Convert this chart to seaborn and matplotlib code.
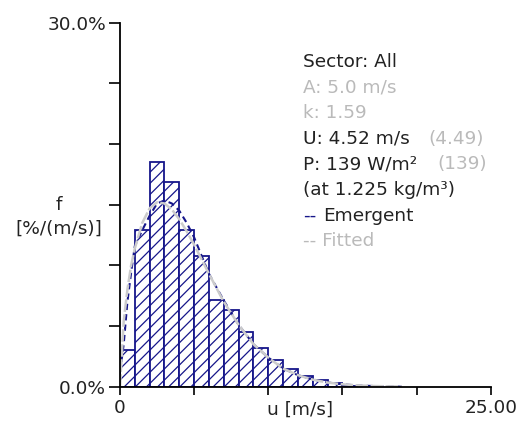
import numpy as np
import pandas as pd
import seaborn as sns
import matplotlib.pyplot as plt

# frequency of wind speed per 1 m/s bin, in %/(m/s)
bin_mid = [0.5, 1.5, 2.5, 3.5, 4.5, 5.5, 6.5, 7.5, 8.5, 9.5, 10.5, 11.5, 12.5, 13.5, 14.5, 15.5]
freq = [3.0, 12.9, 18.5, 16.9, 12.9, 10.8, 7.15, 6.3, 4.5, 3.2, 2.2, 1.5, 0.85, 0.55, 0.3, 0.08]

# distribution curves
curve_u = [0, 0.25, 0.5, 0.75, 1, 1.5, 2, 2.5, 3, 3.5, 4, 4.5, 5, 6, 7, 8, 9, 10,
           11, 12, 13, 14, 15, 16, 17, 18, 19]
emergent = [1.2, 3.5, 7.0, 9.4, 11.6, 12.9, 14.1, 15.1, 15.35, 15.1, 14.5, 13.5, 12.3,
            9.3, 7.1, 5.1, 3.5, 2.4, 1.5, 0.95, 0.6, 0.35, 0.2, 0.1, 0.06, 0.03, 0.0]
fitted = [0.0, 5.4, 8.0, 10.0, 11.4, 13.5, 14.7, 15.2, 15.1, 14.6, 13.8, 12.8, 11.7,
          9.3, 7.0, 5.1, 3.5, 2.4, 1.5, 0.95, 0.58, 0.34, 0.2, 0.11, 0.06, 0.03, 0.015]

info_lines = [
    ("Sector: All", None),
    ("A: 5.0 m/s", None),
    ("k: 1.59", None),
    ("U: 4.52 m/s", "(4.49)"),
    ("P: 139 W/m\u00b2", "(139)"),
    ("(at 1.225 kg/m\u00b3)", None),
]

navy = "#16168a"
grey = "#cccccc"
dark = "#222222"
txt_grey = "#bababa"

sns.set_style("ticks")
plt.rcParams["font.family"] = ["DejaVu Sans"]
plt.rcParams["hatch.color"] = navy
plt.rcParams["hatch.linewidth"] = 0.9
fs = 13.3

fig = plt.figure(figsize=(5.2, 4.21), dpi=100)
ax = fig.add_axes([120 / 520, 1 - 386.7 / 421, 370.7 / 520, 364 / 421])

df = pd.DataFrame({"u": bin_mid, "f": freq})
sns.histplot(data=df, x="u", weights="f", binwidth=1, binrange=(0, 16), ax=ax,
             facecolor="white", edgecolor=navy, linewidth=1.3)
for p in ax.patches:
    p.set_hatch("///")
    p.set_alpha(1)
    p.set_facecolor("white")

curves = pd.DataFrame({"u": curve_u, "Emergent": emergent, "Fitted": fitted})
sns.lineplot(data=curves, x="u", y="Emergent", ax=ax, color=navy, lw=1.5,
             linestyle=(0, (3, 2)))
sns.lineplot(data=curves, x="u", y="Fitted", ax=ax, color=grey, lw=1.8,
             linestyle=(0, (5, 1)))

ax.set_xlim(0, 25)
ax.set_ylim(0, 30)
ax.set_xticks([0, 5, 10, 15, 20, 25])
ax.set_xticklabels(["0", "", "", "", "", "25.00"])
ax.set_yticks([0, 5, 10, 15, 20, 25, 30])
ax.set_yticklabels(["0.0%", "", "", "", "", "", "30.0%"])
ax.tick_params(axis="both", colors="black", labelcolor=dark, labelsize=fs,
               width=1.2, length=6, pad=3)
ax.tick_params(axis="y", length=8, pad=2)
sns.despine(ax=ax)
for s in ["left", "bottom"]:
    ax.spines[s].set_linewidth(1.3)
    ax.spines[s].set_color("black")

ax.set_xlabel("u [m/s]", fontsize=fs, color=dark, va="center")
ax.xaxis.set_label_coords(0.486, -0.062)
ax.set_ylabel("f\n[%/(m/s)]", fontsize=fs, color=dark, rotation=0,
              ha="center", va="center", linespacing=1.4)
ax.yaxis.set_label_coords(-0.165, 0.467)

# info block
W, H = 520, 421
x0, y0, dy = 303, 62, 25.6
for i, (main, extra) in enumerate(info_lines):
    col = txt_grey if main.startswith(("A:", "k:")) else dark
    fig.text(x0 / W, 1 - (y0 + i * dy) / H, main, fontsize=fs, color=col,
             ha="left", va="center")
    if extra:
        ex = 428 if main.startswith("U") else 437
        fig.text(ex / W, 1 - (y0 + i * dy) / H, extra, fontsize=fs,
                 color=txt_grey, ha="left", va="center")

ye = 1 - (y0 + 6 * dy) / H
fig.text(x0 / W, ye, "--", fontsize=fs, color=navy, ha="left", va="center")
fig.text(323 / W, ye, "Emergent", fontsize=fs, color=dark, ha="left", va="center")
yf = 1 - (y0 + 7 * dy) / H
fig.text(x0 / W, yf, "-- Fitted", fontsize=fs, color=txt_grey, ha="left", va="center")

fig.savefig("out.png", dpi=100)
